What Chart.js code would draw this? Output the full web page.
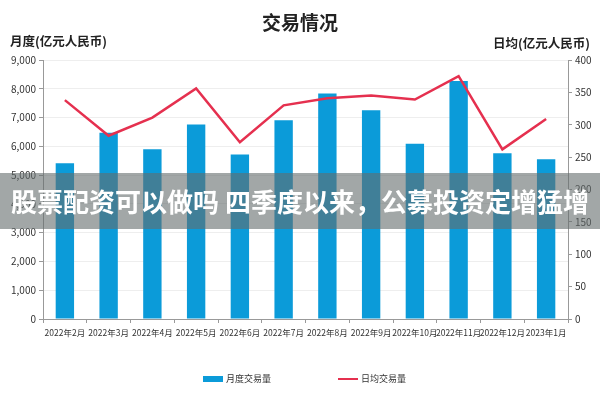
<!DOCTYPE html>
<html>
<head>
<meta charset="utf-8">
<script src="https://cdn.jsdelivr.net/npm/chart.js@4/dist/chart.umd.min.js"></script>
<style>
  body { margin: 0; background: #fff; }
  #wrap { position: relative; width: 600px; height: 400px; font-family: "Noto Sans CJK SC", sans-serif; }
  #wrap canvas { position: absolute; left: 0; top: 0; }
  .txt { position: absolute; white-space: nowrap; color: #222; }
  #title { left: 0; width: 600px; top: 8px; text-align: center; font-size: 19px; font-weight: bold; }
  #ltitle { left: 10px; top: 31px; font-size: 12.5px; font-weight: bold; }
  #rtitle { right: 10px; top: 33px; font-size: 12.5px; font-weight: bold; }
  #legend { left: 0; top: 372px; width: 600px; font-size: 9px; color: #333; }
  .lg { position: absolute; top: 0; }
  .sw { position: absolute; }
  #banner { position: absolute; left: 0; top: 173px; width: 600px; height: 56px; background: rgba(100,108,108,0.6);
            color: #fff; font-size: 26px; font-weight: bold; text-align: center; line-height: 56px; }
</style>
</head>
<body>
<div id="wrap">
  <canvas id="c" width="600" height="400"></canvas>
  <div class="txt" id="title">交易情况</div>
  <div class="txt" id="ltitle">月度(亿元人民币)</div>
  <div class="txt" id="rtitle">日均(亿元人民币)</div>
  <div class="txt" id="legend">
    <span class="sw" style="left:203px;top:4px;width:20px;height:6px;background:#0b9bd9"></span>
    <span class="lg" style="left:226px">月度交易量</span>
    <span class="sw" style="left:338px;top:6px;width:20px;height:2px;background:#e5304f"></span>
    <span class="lg" style="left:361px">日均交易量</span>
  </div>
  <div id="banner">股票配资可以做吗 四季度以来，公募投资定增猛增</div>
</div>
<script>
// 月份
const months = ["2022年2月", "2022年3月", "2022年4月", "2022年5月", "2022年6月", "2022年7月",
                "2022年8月", "2022年9月", "2022年10月", "2022年11月", "2022年12月", "2023年1月"];
// 月度交易量 (亿元)
const monthlyVolume = [5410, 6470, 5900, 6760, 5720, 6910, 7840, 7250, 6090, 8270, 5760, 5550];
// 日均交易量 (亿元)
const dailyAvg = [338, 283, 311, 356, 273, 330, 341, 345, 339, 375, 262, 309];

const tickFont = { family: '"Liberation Sans Narrow", "Noto Sans CJK SC", sans-serif', size: 10 };
const xFont = { family: '"Liberation Sans Narrow", "Noto Sans CJK SC", sans-serif', size: 8.5 };

new Chart(document.getElementById("c"), {
  data: {
    labels: months,
    datasets: [
      {
        type: "line",
        label: "日均交易量",
        data: dailyAvg,
        yAxisID: "y1",
        borderColor: "#e5304f",
        borderWidth: 2.5,
        pointRadius: 0,
        tension: 0,
        order: 0
      },
      {
        type: "bar",
        label: "月度交易量",
        data: monthlyVolume,
        yAxisID: "y",
        backgroundColor: "#0b9bd9",
        categoryPercentage: 1,
        barPercentage: 0.42,
        order: 1
      }
    ]
  },
  options: {
    responsive: false,
    animation: false,
    layout: { padding: { top: 60, bottom: 51, left: 0, right: 0 } },
    plugins: { legend: { display: false }, tooltip: { enabled: false } },
    scales: {
      x: {
        offset: true,
        grid: { offset: true, drawOnChartArea: false, tickLength: 4, color: "#999" },
        border: { color: "#999" },
        ticks: { font: xFont, color: "#333", maxRotation: 0, autoSkip: false, padding: 5 },
        afterFit: s => { s.height = 30; }
      },
      y: {
        position: "left",
        min: 0, max: 9000,
        ticks: { stepSize: 1000, font: tickFont, color: "#333", padding: 3,
                 callback: v => v.toLocaleString("en-US") },
        grid: { color: "#eeeeee", tickLength: 4, tickColor: "#999" },
        border: { color: "#999" },
        afterFit: s => { s.width = 43; }
      },
      y1: {
        position: "right",
        min: 0, max: 400,
        ticks: { stepSize: 50, font: tickFont, color: "#333", padding: 3 },
        grid: { drawOnChartArea: false, tickLength: 4, color: "#999" },
        border: { color: "#999" },
        afterFit: s => { s.width = 32; }
      }
    }
  }
});
</script>
</body>
</html>
